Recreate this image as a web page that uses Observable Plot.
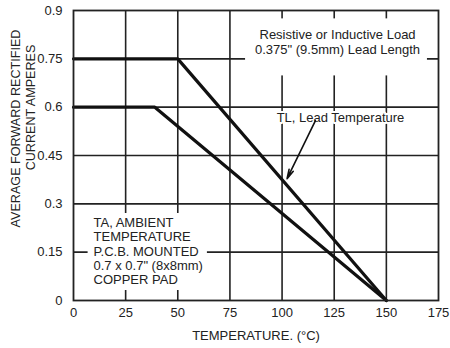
<!DOCTYPE html>
<html>
<head>
<meta charset="utf-8">
<script src="https://cdn.jsdelivr.net/npm/d3@7"></script>
<script src="https://cdn.jsdelivr.net/npm/@observablehq/plot@0.6"></script>
<style>
  html, body { margin: 0; padding: 0; background: white; }
</style>
</head>
<body>
<div id="chart"></div>
<script>
// Series: derating curves
const tlTemp = [0, 50, 150];
const tlCurrent = [0.75, 0.75, 0];
const taTemp = [0, 39, 150];
const taCurrent = [0.6, 0.6, 0];

// Ticks
const xTicks = [0, 25, 50, 75, 100, 125, 150, 175];
const yTicks = [0, 0.15, 0.3, 0.45, 0.6, 0.75, 0.9];
const yTickLabels = ["0", "0.15", "0.3", "0.45", "0.6", "0.75", "0.9"];
const xGrid = [25, 50, 75, 100, 125, 150];
const yGrid = [0.15, 0.3, 0.45, 0.6, 0.75];

// Labels
const xLabel = "TEMPERATURE. (°C)";
const yLabel1 = "AVERAGE FORWARD RECTIFIED";
const yLabel2 = "CURRENT AMPERES";

// Annotations (data units)
const loadNote = [{x: 126.6, y: 0.804, text: "Resistive or Inductive Load\n0.375\" (9.5mm) Lead Length"}];
const ambientNote = [{x: 9.6, y: 0.154, text: "TA, AMBIENT\nTEMPERATURE\nP.C.B. MOUNTED\n0.7 x 0.7\" (8x8mm)\nCOPPER PAD"}];
const leadNote = [{x: 128, y: 0.567, text: "TL, Lead Temperature"}];
const noteBoxes = [
  {x1: 82.5, x2: 169.7, y1: 0.697, y2: 0.874},
  {x1: 7.0, x2: 64.2, y1: 0.031, y2: 0.27}
];
const leadArrow = [{x1: 116, y1: 0.558, x2: 102.4, y2: 0.378}];

const tl = tlTemp.map((t, i) => ({t, c: tlCurrent[i]}));
const ta = taTemp.map((t, i) => ({t, c: taCurrent[i]}));

const ink = "#222";
const chart = Plot.plot({
  width: 450,
  height: 348,
  marginLeft: 73,
  marginRight: 12,
  marginTop: 10,
  marginBottom: 48,
  style: {fontFamily: "'Liberation Sans', Arial, sans-serif", fontSize: "13px", color: ink, background: "white"},
  x: {domain: [0, 175]},
  y: {domain: [0, 0.9]},
  marks: [
    Plot.ruleX(xGrid, {stroke: ink, strokeWidth: 1.6}),
    Plot.ruleY(yGrid, {stroke: ink, strokeWidth: 1.6}),
    Plot.rect(noteBoxes, {x1: "x1", x2: "x2", y1: "y1", y2: "y2", fill: "white"}),
    Plot.line(tl, {x: "t", y: "c", stroke: "#111", strokeWidth: 3.2}),
    Plot.line(ta, {x: "t", y: "c", stroke: "#111", strokeWidth: 3.2}),
    Plot.frame({stroke: ink, strokeWidth: 1.8}),
    Plot.text(loadNote, {x: "x", y: "y", text: "text", fontSize: 13, lineHeight: 1.17, textAnchor: "middle", fill: ink}),
    Plot.text(ambientNote, {x: "x", y: "y", text: "text", fontSize: 13, lineHeight: 1.11, textAnchor: "start", fill: ink}),
    Plot.text(leadNote, {x: "x", y: "y", text: "text", fontSize: 13, textAnchor: "middle", fill: ink, stroke: "white", strokeWidth: 4}),
    Plot.arrow(leadArrow, {x1: "x1", y1: "y1", x2: "x2", y2: "y2", stroke: "#111", strokeWidth: 1.6, headLength: 9, headAngle: 28}),
    Plot.axisX(xTicks, {tickSize: 0, tickPadding: 7, fontSize: 13, label: null, fill: ink}),
    Plot.axisY(yTicks, {tickSize: 0, tickPadding: 11, fontSize: 13, label: null, fill: ink, tickFormat: (d) => yTickLabels[yTicks.indexOf(d)]}),
    Plot.text([xLabel], {text: d => d, frameAnchor: "bottom", dy: 35, fontSize: 13, textAnchor: "middle", lineAnchor: "middle", fill: ink}),
    Plot.text([yLabel1], {text: d => d, frameAnchor: "top-left", dx: -58, dy: 118, rotate: -90, fontSize: 12.6, textAnchor: "middle", lineAnchor: "middle", fill: ink}),
    Plot.text([yLabel2], {text: d => d, frameAnchor: "top-left", dx: -43, dy: 97, rotate: -90, fontSize: 12.6, textAnchor: "middle", lineAnchor: "middle", fill: ink})
  ]
});
document.getElementById("chart").appendChild(chart);
</script>
</body>
</html>
